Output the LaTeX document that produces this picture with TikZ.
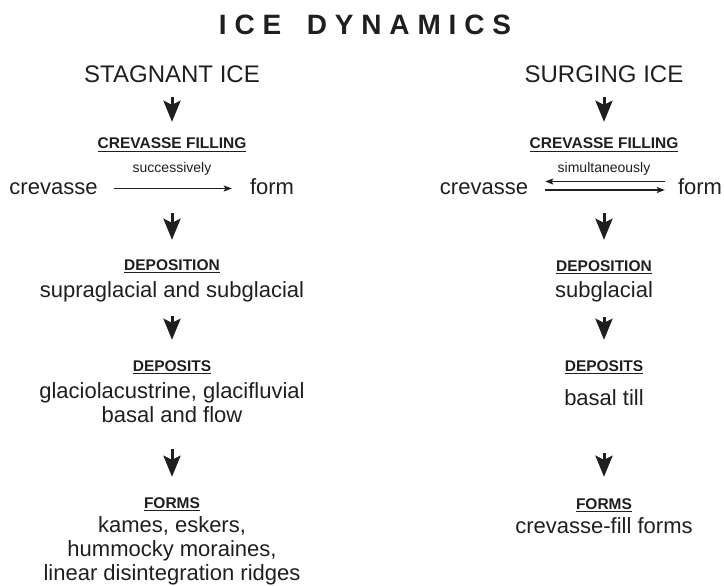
\documentclass[tikz,border=0pt]{standalone}
\usepackage{fontspec}
\setmainfont{Liberation Sans}
\newfontfamily\spacedfont[LetterSpace=28]{Liberation Sans}
\usetikzlibrary{arrows.meta}

\newcommand{\headline}[1]{\setbox0\hbox{#1}\rlap{\rule[-3pt]{\wd0}{1.3pt}}\box0}

\begin{document}
\begin{tikzpicture}[
  x=1pt,y=-1pt,
  every node/.style={inner sep=0pt,text=black!88},
  title/.style={font=\spacedfont\bfseries\fontsize{28}{30}\selectfont,anchor=base},
  side/.style={font=\fontsize{24}{28}\selectfont,anchor=base,text height=17pt,text depth=5pt},
  head/.style={font=\bfseries\fontsize{15.5}{18}\selectfont,anchor=base,text height=11pt,text depth=3pt},
  note/.style={font=\fontsize{14}{16}\selectfont,anchor=base,text height=10pt,text depth=3pt},
  body/.style={font=\fontsize{22}{24}\selectfont,anchor=base,text height=16pt,text depth=5pt},
  lines/.style={font=\fontsize{22}{23.8}\selectfont,anchor=base,align=center},
  down/.style={-{Stealth[length=21pt,width=17pt,inset=4pt]},line width=3pt,draw=black!88},
  thin/.style={-{Stealth[length=8pt,width=6pt,inset=1.5pt]},line width=1.2pt,draw=black!88}
]
  \useasboundingbox (0,0) rectangle (724,586);

  \node[title] (title) at (365,35) {ICE\hspace{10pt} DYNAMICS};

  % stagnant ice
  \node[side] (stag) at (172,83) {STAGNANT ICE};
  \node[head] (crevhL) at (172,149) {\headline{CREVASSE FILLING}};
  \node[note] (succ) at (172,172) {successively};
  \node[body] (crevL) at (53.5,194) {crevasse};
  \node[body] (formL) at (272,194) {form};
  \node[head] (dephL) at (172,270) {\headline{DEPOSITION}};
  \node[body] (depL) at (172,297) {supraglacial and subglacial};
  \node[head] (depshL) at (172,371) {\headline{DEPOSITS}};
  \node[lines] (depsL) at (172,422) {glaciolacustrine, glacifluvial\\basal and flow};
  \node[head] (formshL) at (172,508) {\headline{FORMS}};
  \node[lines] (formsL) at (172,580) {kames, eskers,\\hummocky moraines,\\linear disintegration ridges};

  % surging ice
  \node[side] (surg) at (604,83) {SURGING ICE};
  \node[head] (crevhR) at (604,149) {\headline{CREVASSE FILLING}};
  \node[note] (simul) at (604,172) {simultaneously};
  \node[body] (crevR) at (484,194) {crevasse};
  \node[body] (formR) at (700,194) {form};
  \node[head] (dephR) at (604,271) {\headline{DEPOSITION}};
  \node[body] (depR) at (604,297) {subglacial};
  \node[head] (depshR) at (604,371) {\headline{DEPOSITS}};
  \node[body] (depsR) at (604,405) {basal till};
  \node[head] (formshR) at (604,509) {\headline{FORMS}};
  \node[body] (formsR) at (604,533) {crevasse-fill forms};

  \draw[down,shorten <=9pt,shorten >=16pt] (stag) -- (crevhL);
  \draw[thin,shorten <=16pt,shorten >=18pt] (crevL) -- (formL);
  \draw[down,shorten <=38pt,shorten >=19pt] (succ) -- (dephL);
  \draw[down,shorten <=14pt,shorten >=20pt] (depL) -- (depshL);
  \draw[down,shorten <=27pt,shorten >=20pt] (depsL) -- (formshL);

  \draw[down,shorten <=9pt,shorten >=16pt] (surg) -- (crevhR);
  \draw[thin,shorten <=13pt,shorten >=17pt] ([yshift=7pt]formR.west) -- ([yshift=7pt]crevR.east);
  \draw[thin,shorten <=17pt,shorten >=13pt] ([yshift=-1.5pt]crevR.east) -- ([yshift=-1.5pt]formR.west);
  \draw[down,shorten <=38pt,shorten >=20pt] (simul) -- (dephR);
  \draw[down,shorten <=15pt,shorten >=20pt] (depR) -- (depshR);
  \draw[down,shorten <=43pt,shorten >=21pt] (depsR) -- (formshR);
\end{tikzpicture}
\end{document}
